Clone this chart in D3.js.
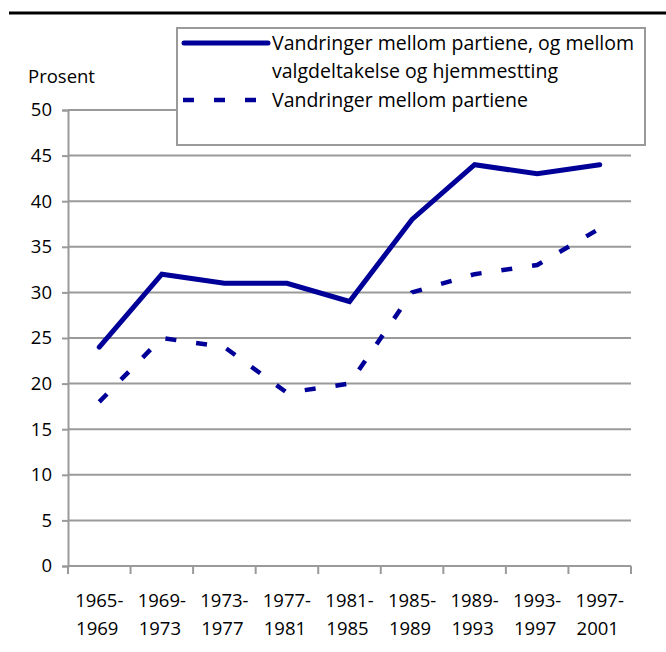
<!DOCTYPE html>
<html>
<head>
<meta charset="utf-8">
<script src="https://cdn.jsdelivr.net/npm/d3@7"></script>
<style>
  body { margin: 0; background: #fff; }
  text { font-family: "Open Sans", sans-serif; fill: #000; }
</style>
</head>
<body>
<svg id="chart" width="666" height="652"></svg>
<script>
// periods along the x axis (two lines each)
var periods = ["1965-1969", "1969-1973", "1973-1977", "1977-1981", "1981-1985",
               "1985-1989", "1989-1993", "1993-1997", "1997-2001"];
// share of voters who moved, percent
var allMoves = [24, 32, 31, 31, 29, 38, 44, 43, 44];   // parties + turnout/abstention
var partyMoves = [18, 25, 24, 19, 20, 30, 32, 33, 37]; // between parties only
var yTicks = [0, 5, 10, 15, 20, 25, 30, 35, 40, 45, 50];

var seriesNames = [
    ["Vandringer mellom partiene, og mellom", "valgdeltakelse og hjemmestting"],
    ["Vandringer mellom partiene"]
];

var lineColor = "#000099";
var gridColor = "#9a9a9a";
var fontSize = "18.5px";

var svg = d3.select("#chart");

// plot area
var plotLeft = 68, plotRight = 631, plotTop = 110, plotBottom = 566;

var x = d3.scaleBand().domain(periods).range([plotLeft, plotRight]);
var y = d3.scaleLinear().domain([0, 50]).range([plotBottom, plotTop]);

// rule across the top of the page
svg.append("line")
    .attr("x1", 9).attr("x2", 666)
    .attr("y1", 13).attr("y2", 13)
    .attr("stroke", "#000").attr("stroke-width", 3);

// horizontal grid lines
svg.append("g").selectAll("line")
    .data(yTicks.filter(function(d) { return d > 0; }))
    .enter().append("line")
    .attr("x1", plotLeft).attr("x2", plotRight)
    .attr("y1", function(d) { return y(d); })
    .attr("y2", function(d) { return y(d); })
    .attr("stroke", gridColor).attr("stroke-width", 2);

// y axis
var yAxis = d3.axisLeft(y).tickValues(yTicks).tickSize(6).tickPadding(10);
var gY = svg.append("g").attr("transform", "translate(" + plotLeft + ",0)").call(yAxis);
gY.select(".domain").attr("stroke", gridColor).attr("stroke-width", 2);
gY.selectAll(".tick line").attr("stroke", gridColor).attr("stroke-width", 2);
gY.selectAll(".tick text")
    .style("font-family", "Open Sans, sans-serif")
    .style("font-size", fontSize)
    .attr("fill", "#000");

// x axis: ticks on band edges
var gX = svg.append("g").attr("transform", "translate(0," + plotBottom + ")");
gX.append("line")
    .attr("x1", plotLeft).attr("x2", plotRight)
    .attr("stroke", gridColor).attr("stroke-width", 2);
var edges = periods.map(function(p) { return x(p); }).concat([plotRight]);
gX.selectAll(".edge").data(edges).enter().append("line")
    .attr("class", "edge")
    .attr("x1", function(d) { return d; }).attr("x2", function(d) { return d; })
    .attr("y1", 0).attr("y2", 8)
    .attr("stroke", gridColor).attr("stroke-width", 2);

var labels = gX.selectAll(".lab").data(periods).enter().append("text")
    .attr("class", "lab")
    .attr("text-anchor", "middle")
    .style("font-size", fontSize);
labels.append("tspan")
    .attr("x", function(d) { return x(d) + x.bandwidth() / 2; })
    .attr("y", 41)
    .text(function(d) { return d.split("-")[0] + "-"; });
labels.append("tspan")
    .attr("x", function(d) { return x(d) + x.bandwidth() / 2 - 2; })
    .attr("y", 69)
    .text(function(d) { return d.split("-")[1]; });

svg.append("text")
    .attr("x", 28).attr("y", 83)
    .style("font-size", fontSize)
    .text("Prosent");

// lines
var line = d3.line()
    .x(function(d, i) { return x(periods[i]) + x.bandwidth() / 2; })
    .y(function(d) { return y(d); });

svg.append("path")
    .datum(partyMoves)
    .attr("d", line)
    .attr("fill", "none")
    .attr("stroke", lineColor)
    .attr("stroke-width", 4.5)
    .attr("stroke-dasharray", "11,20");

svg.append("path")
    .datum(allMoves)
    .attr("d", line)
    .attr("fill", "none")
    .attr("stroke", lineColor)
    .attr("stroke-width", 5)
    .attr("stroke-linejoin", "miter")
    .attr("stroke-linecap", "round");

// legend
var legend = svg.append("g");
legend.append("rect")
    .attr("x", 177).attr("y", 28)
    .attr("width", 468).attr("height", 117)
    .attr("fill", "#fff")
    .attr("stroke", gridColor).attr("stroke-width", 2);

legend.append("line")
    .attr("x1", 184).attr("x2", 268)
    .attr("y1", 43).attr("y2", 43)
    .attr("stroke", lineColor).attr("stroke-width", 5)
    .attr("stroke-linecap", "round");
legend.append("line")
    .attr("x1", 183).attr("x2", 268)
    .attr("y1", 100).attr("y2", 100)
    .attr("stroke", lineColor).attr("stroke-width", 4.5)
    .attr("stroke-dasharray", "11,20");

var legText = legend.append("g").style("font-size", "19.5px");
legText.append("text").attr("x", 272).attr("y", 50).text(seriesNames[0][0]);
legText.append("text").attr("x", 272).attr("y", 78).text(seriesNames[0][1]);
legText.append("text").attr("x", 272).attr("y", 107).text(seriesNames[1][0]);
</script>
</body>
</html>
